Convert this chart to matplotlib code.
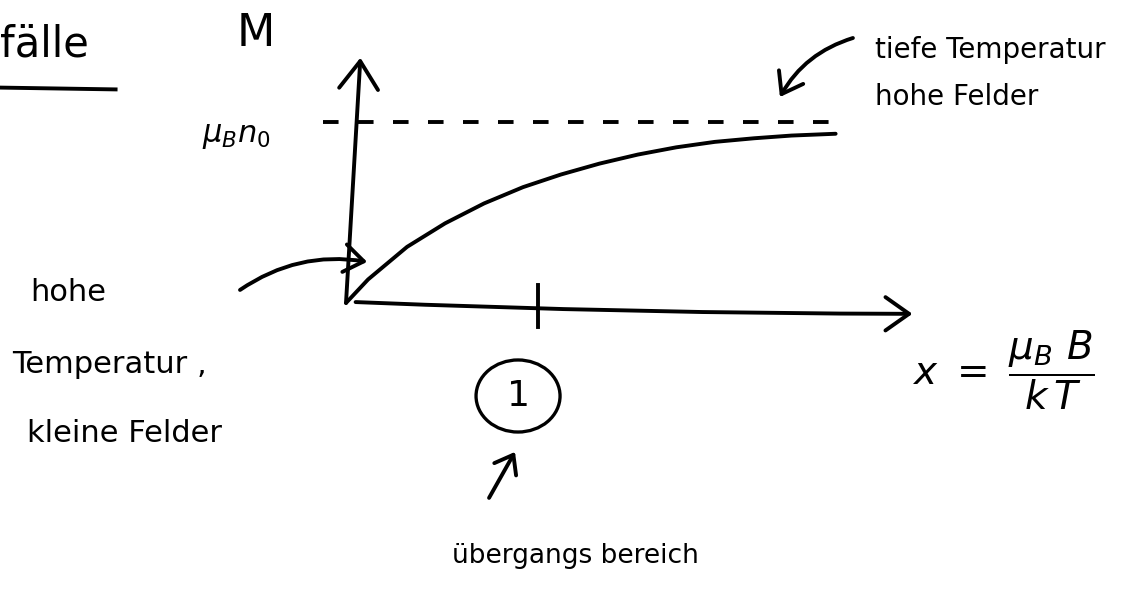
import matplotlib.pyplot as plt
from matplotlib.patches import Ellipse

# Magnetisierung M(x) in Einheiten von mu_B n_0, x = mu_B B / kT
x_vals = [0.0, 0.115, 0.318, 0.516, 0.719, 0.922, 1.12, 1.32, 1.52, 1.72, 1.92, 2.125, 2.32, 2.55]
m_vals = [0.0, 0.13, 0.31, 0.44, 0.55, 0.64, 0.71, 0.77, 0.82, 0.86, 0.89, 0.91, 0.925, 0.935]
m_sat = 1.0      # Sättigung mu_B n_0
x_mark = 1.0     # Übergangsbereich bei x ~ 1

plt.rcParams['font.family'] = 'DejaVu Sans'
plt.rcParams['mathtext.fontset'] = 'dejavusans'

fig = plt.figure(figsize=(11.44, 5.94), dpi=100)
ax = fig.add_axes([0, 0, 1, 1])
ax.set_xlim(-1.802, 4.156)
ax.set_ylim(-1.608, 1.674)
ax.axis('off')

lw = 2.8
k = 'black'

# Achsen mit Pfeilspitzen
ax.annotate('', xy=(0.075, 1.355), xytext=(0.0, 0.0),
            arrowprops=dict(arrowstyle='->,head_length=1.0,head_width=0.7',
                            lw=lw, color=k, shrinkA=0, shrinkB=0, mutation_scale=20))
ax.annotate('', xy=(2.95, -0.06), xytext=(0.05, 0.005),
            arrowprops=dict(arrowstyle='->,head_length=0.85,head_width=0.6',
                            lw=lw, color=k, shrinkA=0, shrinkB=0, mutation_scale=20,
                            connectionstyle='arc3,rad=0.01'))

# Markierung bei x = 1
ax.plot([x_mark, x_mark], [0.10, -0.13], color=k, lw=lw)

# Sättigungslinie und Kurve
ax.plot([-0.12, 2.59], [m_sat, m_sat], color=k, lw=lw, dashes=(4, 5))
ax.plot(x_vals, m_vals, color=k, lw=lw, solid_capstyle='round', solid_joinstyle='round')

# Titel-Rest oben links
ax.text(-1.80, 1.43, 'fälle', fontsize=30, ha='left', va='center')
ax.plot([-1.80, -1.20], [1.19, 1.18], color=k, lw=lw)

ax.text(-0.47, 1.49, 'M', fontsize=32, ha='center', va='center')
ax.text(-0.57, 0.92, r'$\mu_B n_0$', fontsize=22, ha='center', va='center')

# tiefe Temperatur / hohe Felder
ax.text(2.755, 1.40, 'tiefe Temperatur', fontsize=20, ha='left', va='center')
ax.text(2.755, 1.14, 'hohe Felder', fontsize=20, ha='left', va='center')
ax.annotate('', xy=(2.26, 1.138), xytext=(2.64, 1.464),
            arrowprops=dict(arrowstyle='->,head_length=0.7,head_width=0.5', lw=lw, color=k,
                            shrinkA=0, shrinkB=0, mutation_scale=20,
                            connectionstyle='arc3,rad=0.2'))

# hohe Temperatur, kleine Felder
ax.text(-1.646, 0.06, 'hohe', fontsize=22, ha='left', va='center')
ax.text(-1.74, -0.34, 'Temperatur ,', fontsize=22, ha='left', va='center')
ax.text(-1.66, -0.72, 'kleine Felder', fontsize=22, ha='left', va='center')
ax.annotate('', xy=(0.11, 0.227), xytext=(-0.552, 0.072),
            arrowprops=dict(arrowstyle='->,head_length=0.7,head_width=0.5', lw=lw, color=k,
                            shrinkA=0, shrinkB=0, mutation_scale=20,
                            connectionstyle='arc3,rad=-0.2'))

# Kreis um die 1 und Übergangsbereich
ax.add_patch(Ellipse((x_mark - 0.104, -0.514), 0.4375, 0.398, fill=False, lw=lw * 0.85, color=k))
ax.text(x_mark - 0.104, -0.514, '1', fontsize=26, ha='center', va='center')
ax.annotate('', xy=(0.88, -0.823), xytext=(0.745, -1.077),
            arrowprops=dict(arrowstyle='->,head_length=0.6,head_width=0.45', lw=lw, color=k,
                            shrinkA=0, shrinkB=0, mutation_scale=20))
ax.text(0.552, -1.40, 'übergangs bereich', fontsize=19, ha='left', va='center')

# Definition von x
ax.text(2.95, -0.37, r'$x\ =\ \dfrac{\mu_B\ B}{k\,T}$', fontsize=28, ha='left', va='center')

fig.savefig('out.png', dpi=100)
